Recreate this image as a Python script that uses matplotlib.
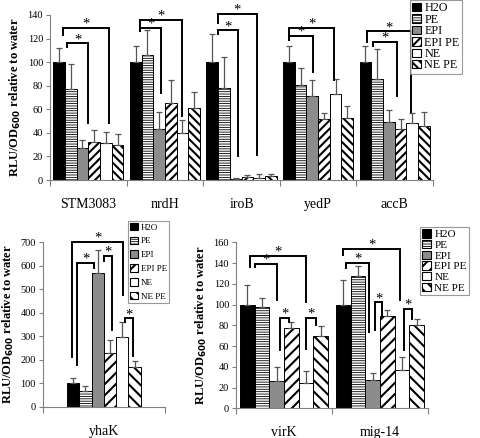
import matplotlib
matplotlib.use("Agg")
import matplotlib.pyplot as plt
from matplotlib.patches import Patch


W, H = 480, 438

treatments = ["H2O", "PE", "EPI", "EPI PE", "NE", "NE PE"]

top_genes = ["STM3083", "nrdH", "iroB", "yedP", "accB"]
stm3083 = [100, 77, 27, 32, 31, 30]
stm3083_err = [12, 21, 7, 10, 10, 9]
nrdh = [100, 106, 43, 65, 40, 61]
nrdh_err = [14, 21, 15, 20, 11, 14]
irob = [100, 78, 1, 2.5, 2, 3.5]
irob_err = [24, 26, 0.5, 2, 3, 1.5]
yedp = [100, 81, 71, 52, 73, 53]
yedp_err = [14, 14, 14, 5, 13, 10]
accb = [100, 86, 49, 43, 48, 46]
accb_err = [14, 25, 10.5, 9, 9, 12]

left_genes = ["yhaK"]
yhak = [100, 68, 568, 227, 295, 170]
yhak_err = [21, 21, 99, 57, 64, 25]

right_genes = ["virK", "mig-14"]
virk = [100, 98, 26, 77, 24, 70]
virk_err = [19, 8, 14, 6, 12, 9]
mig14 = [100, 128, 27, 89, 37, 80]
mig14_err = [24, 9, 7, 6, 12, 6]

# (grupo, barra izq, barra der, altura, fin pata izq, fin pata der)
top_brackets = [
    (0, 0.3, 4.3, 129, 123, 48),
    (0, 0.65, 2.5, 116, 113, 48),
    (1, 0.37, 4.0, 136, 126, 54),
    (1, 0.37, 2.2, 129, 126, 74),
    (2, 0.5, 3.8, 141, 133, 21),
    (2, 0.5, 2.2, 127, 124, 20),
    (3, 0.0, 3.9, 129, 119, 85),
    (3, 0.0, 2.1, 122, 119, 92),
    (4, 0.1, 3.9, 126, 117, 58),
    (4, 0.67, 2.67, 117, 114, 71),
]
left_brackets = [
    (0, -0.07, 4.06, 702, 210, 476),
    (0, 0.31, 1.74, 613, 178, 590),
    (0, 2.55, 3.2, 643, 620, 327),
    (0, 4.2, 4.9, 376, 360, 216),
]
right_brackets = [
    (0, 0.17, 3.99, 147, 136, 102),
    (0, 0.54, 2.03, 139, 136, 104),
    (0, 2.26, 2.83, 87, 56, 83.5),
    (0, 4.03, 4.66, 87, 57, 80),
    (1, 0.0, 3.88, 154, 148, 104),
    (1, 0.21, 1.77, 140, 135, 74),
    (1, 2.17, 2.66, 102, 75, 90),
    (1, 4.1, 4.66, 96, 56, 86),
]

colores = ["black", "white", "#8c8c8c", "white", "white", "white"]
hatches_top = [None, "-------", None, "////", None, "\\\\\\\\"]
hatches_bottom = [None, "-------", None, "///", None, "\\\\\\"]
grosor_hatch = [1.5, 0.6, 1.5, 1.5, 1.5, 1.5]

plt.rcParams["font.family"] = ["Liberation Serif", "DejaVu Serif"]
plt.rcParams["hatch.linewidth"] = 1.5
plt.rcParams["hatch.color"] = "black"


def caja(l, t, r, b):
    return [l / W, 1 - b / H, (r - l) / W, (b - t) / H]


def fijar_hatch(p, i):
    if hasattr(p, "set_hatch_linewidth"):
        p.set_hatch_linewidth(grosor_hatch[i])


def dibujar_panel(ax, genes, medias, errores, brackets, ymax, ystep, ancho, hatches):

    n = len(genes)
    off = (1 - 6 * ancho) / 2

    for i, t in enumerate(treatments):
        xs = [g + off + (i + 0.5) * ancho for g in range(n)]
        vals = [medias[g][i] for g in range(n)]
        errs = [errores[g][i] for g in range(n)]
        barras = ax.bar(
            xs, vals, ancho,
            color=colores[i],
            edgecolor="black",
            linewidth=0.7,
            hatch=hatches[i],
            yerr=[[0] * n, errs],
            error_kw=dict(ecolor="#555555", elinewidth=0.9, capsize=2.5, capthick=0.9),
            zorder=2,
        )
        for p in barras:
            fijar_hatch(p, i)

    for g, bi, bd, h, yi, yd in brackets:
        xi = g + off + (bi + 0.5) * ancho
        xd = g + off + (bd + 0.5) * ancho
        ax.plot([xi, xi, xd, xd], [yi, h, h, yd], color="black", lw=1.4,
                clip_on=False, zorder=3, solid_joinstyle="miter")
        ax.annotate("*", ((xi + xd) / 2, h), xytext=(0, -2), textcoords="offset points",
                    ha="center", va="bottom", fontsize=10.5, annotation_clip=False)

    ax.set_xlim(0, n)
    ax.set_ylim(0, ymax)
    ax.set_yticks(range(0, ymax + 1, ystep))
    ax.tick_params(axis="y", labelsize=7.5, length=3, width=0.8, color="#808080", pad=2)

    ax.set_xticks(range(n + 1))
    ax.set_xticklabels([])
    ax.set_xticks([g + 0.5 for g in range(n)], minor=True)
    ax.set_xticklabels(genes, minor=True, fontsize=10)
    ax.tick_params(axis="x", which="major", length=4, width=0.8, color="#808080")
    ax.tick_params(axis="x", which="minor", length=0, pad=13)

    for lado in ["top", "right"]:
        ax.spines[lado].set_visible(False)
    for lado in ["left", "bottom"]:
        ax.spines[lado].set_color("#808080")
        ax.spines[lado].set_linewidth(0.8)

    ax.set_ylabel("RLU/OD$_{\\mathbf{600}}$ relative to water", fontsize=9,
                  fontweight="bold", labelpad=3)


def leyenda(fig, l, t, hatches, fs, sp, hl):
    handles = []
    for i in range(6):
        p = Patch(facecolor=colores[i], edgecolor="black", hatch=hatches[i], linewidth=0.8)
        fijar_hatch(p, i)
        handles.append(p)
    leg = fig.legend(
        handles, treatments,
        loc="upper left",
        bbox_to_anchor=(l / W, 1 - t / H),
        frameon=True,
        fancybox=False,
        edgecolor="#808080",
        fontsize=fs,
        handlelength=hl,
        handleheight=hl,
        handletextpad=0.3,
        labelspacing=sp,
        borderpad=0.2,
        borderaxespad=0,
    )
    leg.get_frame().set_linewidth(0.8)
    for i, p in enumerate(leg.legend_handles):
        fijar_hatch(p, i)
    return leg


fig = plt.figure(figsize=(W / 100, H / 100), dpi=100)

ax_top = fig.add_axes(caja(50, 15, 433, 180))
dibujar_panel(
    ax_top, top_genes,
    [stm3083, nrdh, irob, yedp, accb],
    [stm3083_err, nrdh_err, irob_err, yedp_err, accb_err],
    top_brackets, 140, 20, 0.1527, hatches_top,
)

ax_left = fig.add_axes(caja(42.7, 242.3, 165, 406.7))
dibujar_panel(
    ax_left, left_genes, [yhak], [yhak_err],
    left_brackets, 700, 100, 0.1006, hatches_bottom,
)

ax_right = fig.add_axes(caja(236, 242.3, 428, 408.3))
dibujar_panel(
    ax_right, right_genes, [virk, mig14], [virk_err, mig14_err],
    right_brackets, 160, 20, 0.153, hatches_bottom,
)

leyenda(fig, 410, 0, hatches_top, 8.7, -0.05, 0.7)
leyenda(fig, 128, 221, hatches_bottom, 6.5, 0.55, 0.9)
leyenda(fig, 420, 227, hatches_bottom, 8, 0.05, 0.8)

fig.savefig("out.png", dpi=100)
